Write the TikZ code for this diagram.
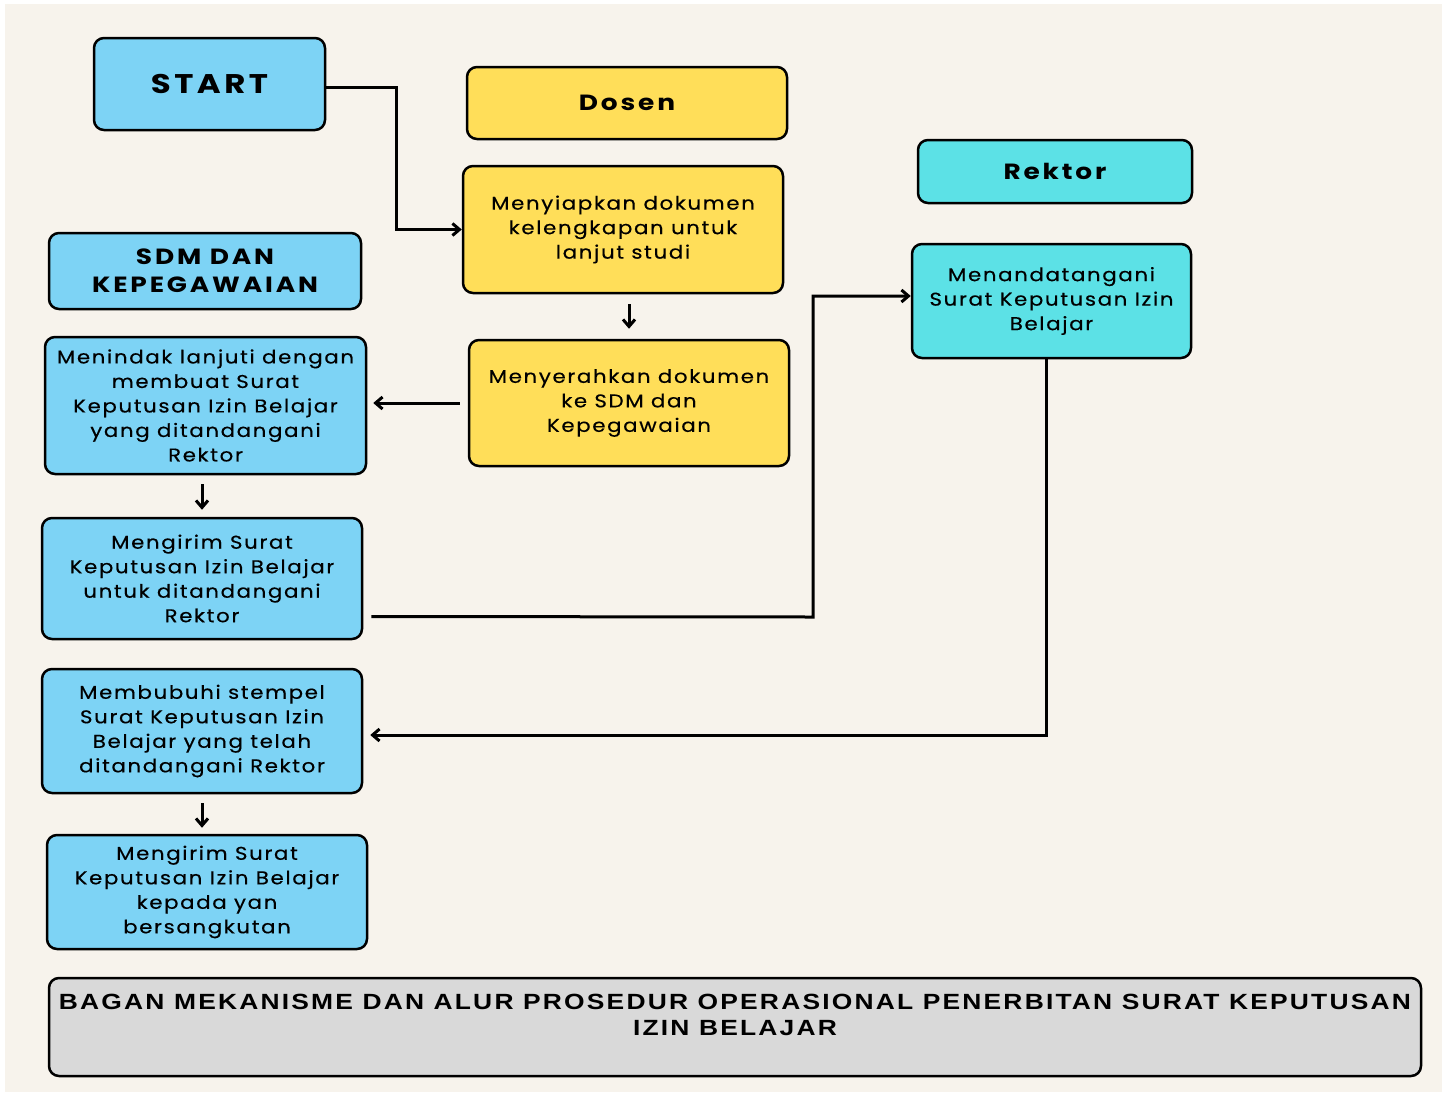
\documentclass[tikz,border=0pt]{standalone}
\usepackage{fontspec}
\setmainfont{Poppins}
\newfontfamily\bodyfont[LetterSpace=9, FakeStretch=1.15, FakeBold=0.4]{Poppins}
\newfontfamily\headfont[LetterSpace=13, FakeStretch=1.2]{Poppins}
\newfontfamily\capfont[LetterSpace=10, FakeStretch=1.2]{Liberation Sans}
\usetikzlibrary{arrows.meta,positioning}

\definecolor{biru}{HTML}{7DD3F5}
\definecolor{tosca}{HTML}{5CE1E6}
\definecolor{kuning}{HTML}{FFDE59}
\definecolor{abu}{HTML}{D9D9D9}
\definecolor{krem}{HTML}{F7F3EC}

\tikzset{
  kotak/.style={draw=black, line width=2.5pt, rounded corners=10pt, align=center, inner sep=4pt},
  isi/.style={kotak, font=\bodyfont\fontsize{18.5}{24.5}\selectfont},
  kepala/.style={kotak, font=\headfont\bfseries\fontsize{22}{28}\selectfont},
  panah/.style={line width=3pt, -{Straight Barb[length=7pt,width=12pt]}},
}

\begin{document}
\begin{tikzpicture}[x=1pt,y=-1pt]
          \useasboundingbox (0,0) rectangle (1442,1092);
          \fill[white] (0,0) rectangle (1442,1092);
          \fill[krem] (5,4) rectangle (1442,1092);
          % kolom SDM dan Kepegawaian
          \node[kepala, fill=biru, minimum width=231pt, minimum height=92pt, font=\headfont\bfseries\fontsize{27}{28}\selectfont] (start) at (209.5,84) {START};
          \node[kepala, fill=biru, minimum width=312pt, minimum height=76pt] (sdm) at (205,271) {SDM DAN\\KEPEGAWAIAN};
          \node[isi, fill=biru, minimum width=321pt, minimum height=137pt] (tindak) at (205.5,405.5) {Menindak lanjuti dengan\\membuat Surat\\Keputusan Izin Belajar\\yang ditandangani\\Rektor};
          \node[isi, fill=biru, minimum width=320pt, minimum height=121pt] (kirimA) at (202,578.5) {Mengirim Surat\\Keputusan Izin Belajar\\untuk ditandangani\\Rektor};
          \node[isi, fill=biru, minimum width=320pt, minimum height=124pt] (stempel) at (202,731) {Membubuhi stempel\\Surat Keputusan Izin\\Belajar yang telah\\ditandangani Rektor};
          \node[isi, fill=biru, minimum width=320pt, minimum height=114pt] (kirimB) at (207,892) {Mengirim Surat\\Keputusan Izin Belajar\\kepada yan\\bersangkutan};
          % kolom Dosen
          \node[kepala, fill=kuning, minimum width=320pt, minimum height=72pt] (dosen) at (627,103) {Dosen};
          \node[isi, fill=kuning, minimum width=320pt, minimum height=127pt] (siap) at (623,229.5) {Menyiapkan dokumen\\kelengkapan untuk\\lanjut studi};
          \node[isi, fill=kuning, minimum width=320pt, minimum height=126pt] (serah) at (629,403) {Menyerahkan dokumen\\ke SDM dan\\Kepegawaian};
          % kolom Rektor
          \node[kepala, fill=tosca, minimum width=274pt, minimum height=63pt] (rektor) at (1055,171.5) {Rektor};
          \node[isi, fill=tosca, minimum width=279pt, minimum height=114pt] (tanda) at (1051.5,301) {Menandatangani\\Surat Keputusan Izin\\Belajar};
          % judul bawah
          \node[kotak, fill=abu, minimum width=1372pt, minimum height=98pt] (judul) at (735,1027) {};
          \node[font=\capfont\bfseries\fontsize{22}{26}\selectfont, align=center, anchor=north, inner sep=0pt] (judulteks) at ([yshift=-17pt]judul.north) {BAGAN MEKANISME DAN ALUR PROSEDUR OPERASIONAL PENERBITAN SURAT KEPUTUSAN\\IZIN BELAJAR};
          % alur
          \coordinate (belok) at (813,617);
          \draw[panah] ([yshift=-3pt]start.east) -- ++(70,0) |- (siap.west);
          \draw[panah, shorten <=10pt, shorten >=10pt] (siap.south -| serah) -- (serah.north);
          \draw[panah, shorten <=8pt, shorten >=6pt] (serah.west) -- (serah.west -| tindak.east);
          \draw[panah, shorten <=9pt, shorten >=7pt] (tindak.south -| kirimA) -- (kirimA.north);
          \draw[panah, shorten <=8pt] ([yshift=-38pt]kirimA.east) -- (belok) |- ([yshift=5pt]tanda.west);
          \draw[panah, shorten >=7pt] ([xshift=-5pt]tanda.south) |- ([yshift=-4pt]stempel.east);
          \draw[panah, shorten <=9pt, shorten >=6pt] (stempel.south) -- (stempel.south |- kirimB.north);
\end{tikzpicture}
\end{document}
